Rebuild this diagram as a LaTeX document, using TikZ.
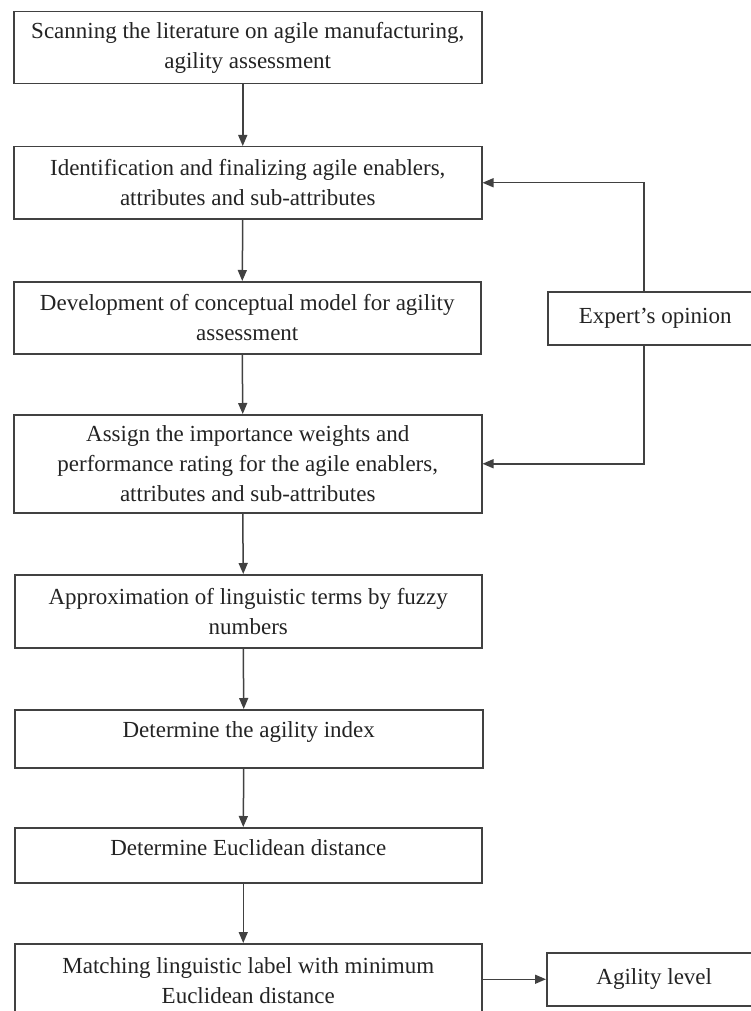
\documentclass[tikz,border=0pt]{standalone}
\usepackage{fontspec}
\setmainfont{Liberation Serif}
\usetikzlibrary{arrows.meta}
\definecolor{ln}{RGB}{65,65,65}
\definecolor{tx}{RGB}{35,35,35}
\begin{document}
\begin{tikzpicture}[x=1pt,y=-1pt,
  box/.style={draw=ln, line width=1.5pt, text=tx, align=center, inner sep=0pt,
    font=\fontsize{23}{29.7}\selectfont, anchor=north west},
  arr/.style={draw=ln, line width=1.5pt, -{Triangle[length=11pt,width=9pt]}}]
\useasboundingbox (0,0) rectangle (751,1011);
\clip (0,0) rectangle (751,1011);
\node[box, minimum width=468pt, minimum height=72pt] (b1) at (13,11)
  {Scanning the literature on agile manufacturing,\\ agility assessment};
\node[box, minimum width=468pt, minimum height=72pt] (b2) at (13,146)
  {Identification and finalizing agile enablers,\\ attributes and sub-attributes};
\node[box, minimum width=467pt, minimum height=72pt] (b3) at (13,281)
  {Development of conceptual model for agility\\ assessment};
\node[box, minimum width=468pt, minimum height=98pt] (b4) at (13,414)
  {Assign the importance weights and\\ performance rating for the agile enablers,\\ attributes and sub-attributes};
\node[box, minimum width=467pt, minimum height=73pt] (b5) at (14,574)
  {Approximation of linguistic terms by fuzzy\\ numbers};
\node[box, minimum width=468pt, minimum height=58pt, text height=15.5pt, text depth=18.5pt] (b6) at (14,709)
  {Determine the agility index};
\node[box, minimum width=467pt, minimum height=55pt, text height=15.5pt, text depth=14.5pt] (b7) at (14,827)
  {Determine Euclidean distance};
\node[box, minimum width=467pt, minimum height=74pt] (b8) at (14,943)
  {Matching linguistic label with minimum\\ Euclidean distance};
\node[box, minimum width=215pt, minimum height=53pt] (exp) at (547,291)
  {Expert’s opinion};
\node[box, minimum width=215pt, minimum height=53pt] (agl) at (546,952)
  {Agility level};
\coordinate (ecol) at (644,0);
\draw[arr] ([xshift=-5pt]b1.south) -- ([xshift=-5pt]b2.north);
\draw[arr] ([xshift=-5pt]b2.south) -- ([xshift=-5pt]b3.north);
\draw[arr] ([xshift=-5pt]b3.south) -- ([xshift=-5pt]b4.north);
\draw[arr] ([xshift=-5pt]b4.south) -- ([xshift=-5pt]b5.north);
\draw[arr] ([xshift=-5pt]b5.south) -- ([xshift=-5pt]b6.north);
\draw[arr] ([xshift=-5pt]b6.south) -- ([xshift=-5pt]b7.north);
\draw[arr] ([xshift=-5pt]b7.south) -- ([xshift=-5pt]b8.north);
\draw[arr] (exp.north -| ecol) |- (b2.east);
\draw[arr] (exp.south -| ecol) |- (b4.east);
\draw[arr] (b8.east |- agl.west) -- (agl.west);
\end{tikzpicture}
\end{document}
